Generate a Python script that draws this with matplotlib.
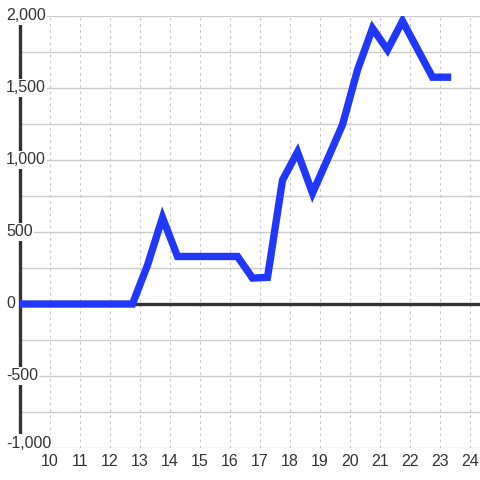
import matplotlib
matplotlib.use("Agg")
import matplotlib.pyplot as plt
import matplotlib.transforms as mtransforms

# half-hourly readings
hours = [8.75, 9.25, 9.75, 10.25, 10.75, 11.25, 11.75, 12.25, 12.75,
         13.25, 13.75, 14.25, 14.75, 15.25, 15.75, 16.25, 16.75, 17.25,
         17.75, 18.25, 18.75, 19.25, 19.75, 20.25, 20.75, 21.25, 21.75,
         22.25, 22.75, 23.25]
values = [0, 0, 0, 0, 0, 0, 0, 0, 0,
          270, 600, 330, 330, 330, 330, 330, 180, 185,
          860, 1055, 770, 1005, 1245, 1625, 1915, 1765, 1965,
          1770, 1575, 1575]

x_ticks = list(range(10, 25))
y_ticks = [-1000, -500, 0, 500, 1000, 1500, 2000]
y_labels = ["-1,000", "-500", "0", "500", "1,000", "1,500", "2,000"]
y_grid = list(range(-1000, 2001, 250))

plt.rcParams['font.family'] = ['Liberation Sans', 'DejaVu Sans']

fig = plt.figure(figsize=(4.8, 4.8), dpi=100)
fig.patch.set_facecolor("white")
ax = fig.add_axes([20 / 480, 32 / 480, 460 / 480, 432 / 480])
ax.set_xlim(9, 9 + 460 / 30)
ax.set_ylim(-1000, 2000)

for s in ["top", "right", "bottom"]:
    ax.spines[s].set_visible(False)
ax.spines["left"].set_color("#333333")
ax.spines["left"].set_linewidth(2.4)
ax.set_xticks([])
ax.set_yticks([])

for y in y_grid:
    ax.axhline(y, color="#cccccc", lw=1, zorder=1)
for x in x_ticks:
    ax.axvline(x, color="#c8c8c8", lw=0.8, ls=(0, (2.5, 3)), zorder=1)

ax.axhline(0, color="#333333", lw=2.4, zorder=2)
ax.plot(hours, values, color="#2137fb", lw=5.3, zorder=4,
        solid_joinstyle="miter", solid_capstyle="projecting")

# y labels sit over the left spine with a white background
ytr = mtransforms.blended_transform_factory(fig.transFigure, ax.transData)
for v, lab in zip(y_ticks, y_labels):
    off = mtransforms.ScaledTranslation(0, 5 / 100, fig.dpi_scale_trans) if v == -1000 else mtransforms.Affine2D()
    ax.text(6 / 480, v, lab, transform=ytr + off, ha="left", va="center",
            fontsize=11.5, color="#333333", zorder=5, clip_on=False,
            bbox=dict(facecolor="white", edgecolor="none", pad=1.0))

xtr = mtransforms.blended_transform_factory(ax.transData, fig.transFigure)
for x in x_ticks:
    ax.text(x, 1 - 461 / 480, str(x), transform=xtr, ha="center", va="center",
            fontsize=11.5, color="#333333", clip_on=False)

fig.savefig("out.png", dpi=100, facecolor="white")
